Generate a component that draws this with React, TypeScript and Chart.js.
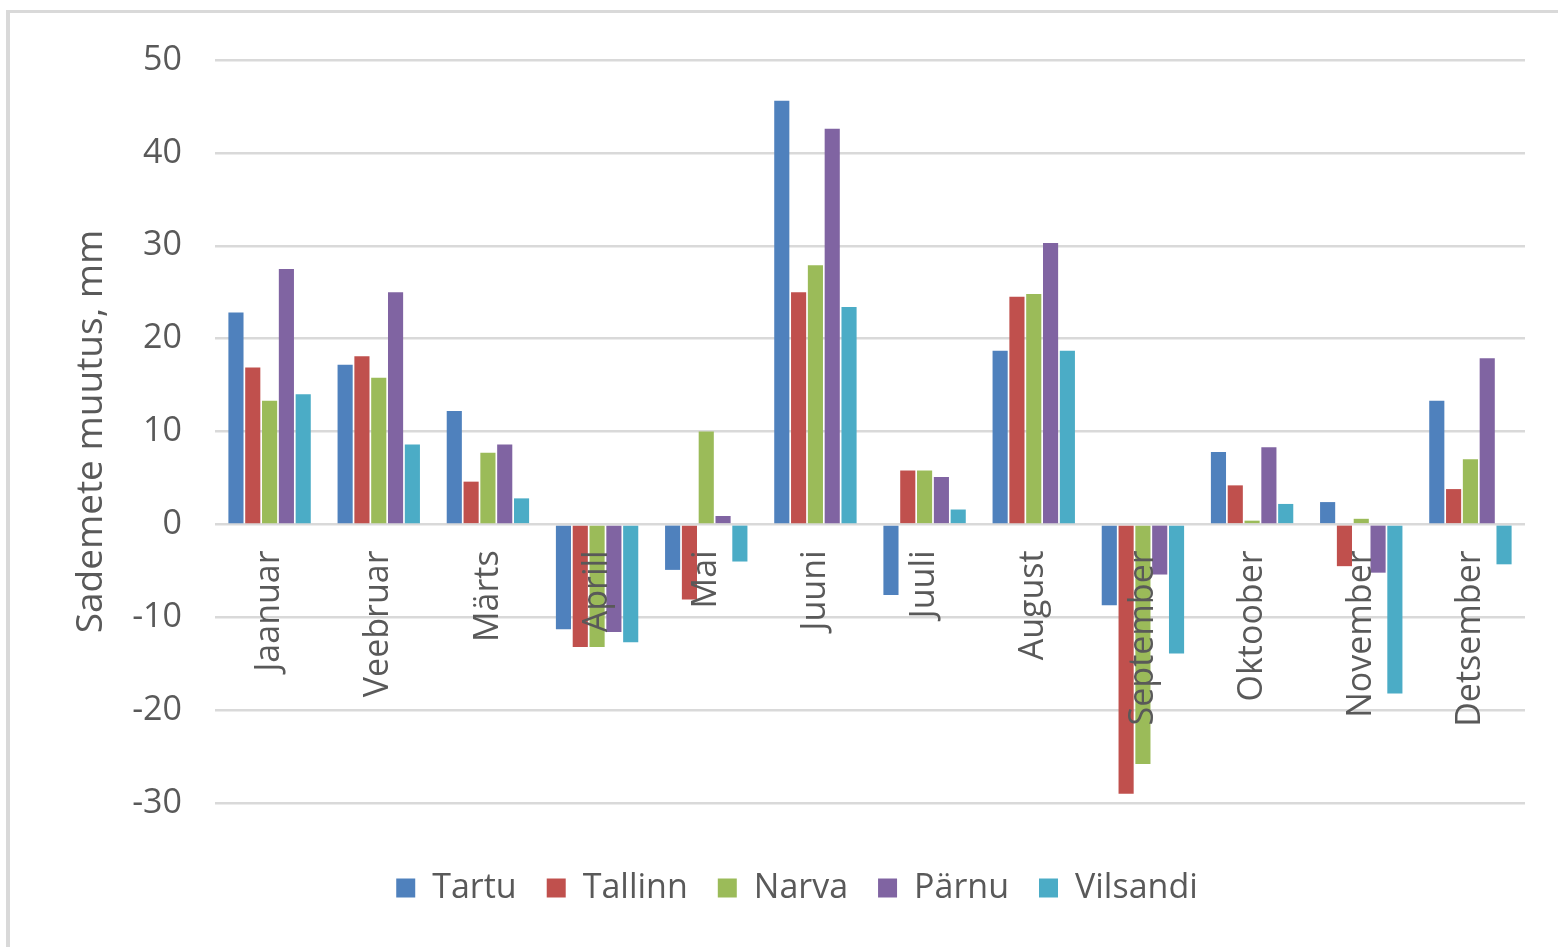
import React, { useEffect, useRef } from "react";
import { Chart, registerables } from "chart.js";

Chart.register(...registerables);

const months = ["Jaanuar", "Veebruar", "Märts", "Aprill", "Mai", "Juuni", "Juuli", "August", "September", "Oktoober", "November", "Detsember"];
const tartu = [22.8, 17.2, 12.2, -11.3, -4.9, 45.6, -7.6, 18.7, -8.7, 7.8, 2.4, 13.3];
const tallinn = [16.9, 18.1, 4.6, -13.2, -8.1, 25.0, 5.8, 24.5, -29.0, 4.2, -4.5, 3.8];
const narva = [13.3, 15.8, 7.7, -13.2, 10.0, 27.9, 5.8, 24.8, -25.8, 0.4, 0.6, 7.0];
const parnu = [27.5, 25.0, 8.6, -11.6, 0.9, 42.6, 5.1, 30.3, -5.4, 8.3, -5.2, 17.9];
const vilsandi = [14.0, 8.6, 2.8, -12.7, -4.0, 23.4, 1.6, 18.7, -13.9, 2.2, -18.2, -4.3];
const seriesNames = ["Tartu", "Tallinn", "Narva", "Pärnu", "Vilsandi"];
const seriesColors = ["#4F81BD", "#C0504D", "#9BBB59", "#8064A2", "#4BACC6"];
const yTitle = "Sademete muutus, mm";

const FONT = "'Open Sans', 'Noto Sans', sans-serif";
const TEXT = "#595959";

export default function App() {
  const ref = useRef<HTMLCanvasElement | null>(null);

  useEffect(() => {
    if (!ref.current) return;
    const values = [tartu, tallinn, narva, parnu, vilsandi];
    const chart = new Chart(ref.current, {
      type: "bar",
      data: {
        labels: months,
        datasets: values.map((v, i) => ({
          label: seriesNames[i],
          data: v,
          backgroundColor: seriesColors[i],
          borderWidth: 0,
          barPercentage: 0.9,
          categoryPercentage: 0.77,
        })),
      },
      options: {
        animation: false,
        responsive: false,
        devicePixelRatio: 1,
        layout: { padding: { left: 69, right: 33, top: 60, bottom: 32 } },
        plugins: {
          tooltip: { enabled: false },
          legend: {
            position: "bottom",
            title: { display: true, text: "", font: { size: 1, lineHeight: 1 }, padding: { top: 37, bottom: 0 } },
            labels: {
              boxWidth: 19,
              boxHeight: 19,
              padding: 30,
              color: TEXT,
              font: { family: FONT, size: 34 },
            },
          },
        },
        scales: {
          x: {
            position: { y: 0 } as any,
            grid: { display: false, drawTicks: false },
            border: { display: false },
            ticks: {
              z: 1,
              autoSkip: false,
              minRotation: 90,
              maxRotation: 90,
              padding: 26,
              color: TEXT,
              font: { family: FONT, size: 34 },
            },
          },
          y: {
            min: -30,
            max: 50,
            afterFit: (s: any) => {
              s.width = 146;
            },
            ticks: {
              stepSize: 10,
              padding: 33,
              color: TEXT,
              font: { family: FONT, size: 34 },
            },
            grid: { color: "#d9d9d9", lineWidth: 2.5, drawTicks: false },
            border: { display: false },
            title: {
              display: true,
              text: yTitle,
              color: TEXT,
              font: { family: FONT, size: 37 },
              padding: { top: 0, bottom: 0 },
            },
          },
        },
      },
    });
    return () => chart.destroy();
  }, []);

  return (
    <div style={{ position: "absolute", left: 0, top: 0, width: 1558, height: 947, overflow: "hidden", background: "#fff" }}>
      <div
        style={{
          position: "absolute",
          left: 6,
          top: 10,
          width: 1552,
          height: 937,
          borderLeft: "4px solid #d9d9d9",
          borderTop: "3px solid #d9d9d9",
          boxSizing: "border-box",
        }}
      />
      <canvas ref={ref} width={1558} height={947} style={{ position: "absolute", left: 0, top: 0, width: 1558, height: 947 }} />
    </div>
  );
}
